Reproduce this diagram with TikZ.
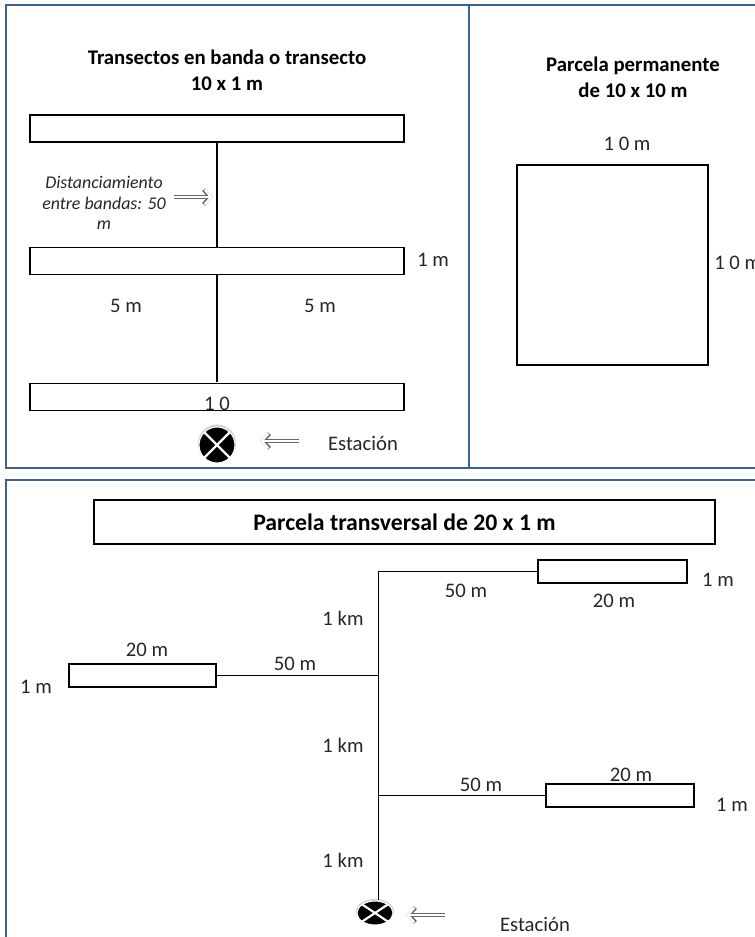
\documentclass[tikz,border=0pt]{standalone}
\usepackage{fontspec}
\setmainfont{Carlito}
\usetikzlibrary{arrows.meta,shadows,shapes.geometric}

\definecolor{framecolor}{RGB}{61,96,155}
\tikzset{
  frameline/.style={draw=framecolor, line width=1.5pt},
  plotbox/.style={draw, fill=white, line width=1.1pt, inner sep=0pt, outer sep=0pt},
  plainlabel/.style={font=\fontsize{15.5}{18}\selectfont, text=black!85, inner sep=0pt},
  titlelabel/.style={font=\fontsize{15.6}{19.5}\selectfont\bfseries, align=center, inner sep=0pt},
  notelabel/.style={font=\fontsize{13.4}{15.5}\selectfont\itshape, text=black!85, align=center, inner sep=0pt},
  hollowarrow/.style={draw=white, line width=1.8pt, -{Straight Barb[length=5pt,width=11pt,line width=1.8pt]},
    preaction={draw=black!60, line width=3pt, -{Straight Barb[length=5pt,width=11pt,line width=3pt]}}},
  stationmark/.style={fill=black, draw=white, line width=0.8pt, inner sep=0pt, outer sep=0pt,
    general shadow={shadow xshift=0pt, shadow yshift=1pt, shadow scale=1.06, fill=black!40, opacity=0.45},
    path picture={
      \draw[white, line width=1.6pt] (path picture bounding box.south west) -- (path picture bounding box.north east);
      \draw[white, line width=1.6pt] (path picture bounding box.north west) -- (path picture bounding box.south east);
    }}
}

\begin{document}
\begin{tikzpicture}[x=0.75pt, y=-0.75pt]
\useasboundingbox (0,0) rectangle (755,937);

% Panel frames
\draw[frameline] (755,5) -- (6,5) -- (6,468) -- (755,468);
\draw[frameline] (469,5) -- (469,468);
\draw[frameline] (755,480) -- (6,480) -- (6,937);

% Band transects
\node[titlelabel] (titlebanda) at (227,70) {Transectos en banda o transecto\\10 x 1 m};
\node[plotbox, minimum width=280.5pt, minimum height=20pt] (bandatop) at (217,128.5) {};
\node[plotbox, minimum width=280.5pt, minimum height=20pt] (bandamid) at (217,261) {};
\node[plotbox, minimum width=280.5pt, minimum height=20pt] (bandalow) at (217,397) {};
\draw[line width=1.1pt] (bandatop.south) -- (bandamid.north);
\draw[line width=1.1pt, shorten >=1.5pt] (bandamid.south) -- (bandalow.north);

\node[notelabel] (notedist) at (104,203) {Distanciamiento\\entre bandas: 50\\m};
\coordinate (notefrom) at (174,197);
\coordinate (noteto) at (213,197);
\draw[hollowarrow] (notefrom) -- (noteto);

\node[plainlabel, anchor=west] (onemmid) at (417,260) {1 m};
\node[plainlabel] (fiveleft) at (126,306) {5 m};
\node[plainlabel] (fiveright) at (320,306) {5 m};
\node[plainlabel] (tenlow) at (217,404) {1 0};

% Station of the band transects
\node[stationmark, circle, minimum size=27pt] (stationa) at (217,445) {};
\coordinate (stationafrom) at (299,441);
\coordinate (stationato) at (260,441);
\draw[hollowarrow] (stationafrom) -- (stationato);
\node[plainlabel] (stationalabel) at (363,443) {Estación};

% Permanent plot
\node[titlelabel] (titleparcela) at (633,77) {Parcela permanente\\de 10 x 10 m};
\node[plotbox, minimum width=143pt, minimum height=150pt] (parcela) at (612.5,265) {};
\node[plainlabel] (tentop) at (627,144) {1 0 m};
\node[plainlabel, anchor=west] (tenright) at (714,263) {1 0 m};

% Transversal plots
\node[plotbox, minimum width=465.5pt, minimum height=33pt,
  font=\fontsize{17.8}{20}\selectfont\bfseries] (titletrans) at (404.5,522) {Parcela transversal de 20 x 1 m};
\node[plotbox, minimum width=111.5pt, minimum height=17pt] (plotne) at (612.5,571.5) {};
\node[plotbox, minimum width=110.5pt, minimum height=17pt] (plotw) at (142.5,675.5) {};
\node[plotbox, minimum width=111pt, minimum height=17pt] (plotse) at (620,795.5) {};
\node[stationmark, ellipse, minimum width=27pt, minimum height=18pt] (stationb) at (375,913) {};

\coordinate (spinetop) at (378,571.5);
\coordinate (spinemid) at (378,675.5);
\coordinate (spinelow) at (378,795.5);
\coordinate (spineend) at (378,900);
\draw[line width=0.7pt] (spinetop) -- (spineend);
\draw[line width=0.7pt] (spinetop) -- (plotne.west);
\draw[line width=0.7pt] (plotw.east) -- (spinemid);
\draw[line width=0.7pt] (spinelow) -- (plotse.west);

\node[plainlabel] (fiftyne) at (466,591) {50 m};
\node[plainlabel] (twentyne) at (614,601) {20 m};
\node[plainlabel] (onemne) at (718,580) {1 m};
\node[plainlabel] (kmtop) at (343,618) {1 km};
\node[plainlabel] (twentyw) at (147,650) {20 m};
\node[plainlabel] (fiftyw) at (295,664) {50 m};
\node[plainlabel] (onemw) at (36,687) {1 m};
\node[plainlabel] (kmmid) at (343,745) {1 km};
\node[plainlabel] (fiftyse) at (481,785) {50 m};
\node[plainlabel] (twentyse) at (631,775) {20 m};
\node[plainlabel] (onemse) at (732,805) {1 m};
\node[plainlabel] (kmlow) at (343,860) {1 km};

% Station of the transversal plots
\coordinate (stationbfrom) at (445,915);
\coordinate (stationbto) at (406,915);
\draw[hollowarrow] (stationbfrom) -- (stationbto);
\node[plainlabel] (stationblabel) at (535,924) {Estación};

\end{tikzpicture}
\end{document}
